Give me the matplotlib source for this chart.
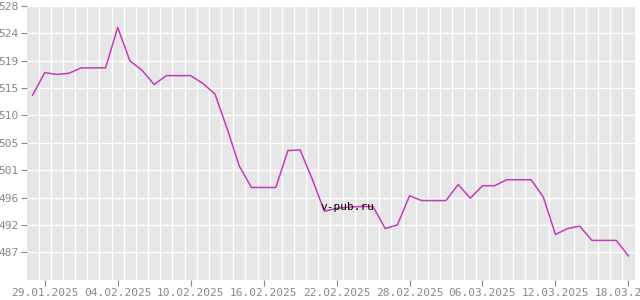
import matplotlib
matplotlib.use("Agg")
import matplotlib.pyplot as plt
import matplotlib.dates as mdates
import numpy as np
import pandas as pd

# daily values, 28.01.2025 .. 18.03.2025
start_date = "2025-01-28"
values = [513.4, 517.2, 516.9, 517.1, 518.0, 518.0, 518.0, 524.8, 519.2, 517.6,
          515.2, 516.7, 516.7, 516.7, 515.4, 513.6, 507.8, 501.5, 497.9, 497.9,
          497.9, 504.1, 504.2, 499.3, 493.9, 494.4, 494.6, 494.7, 494.7, 491.0,
          491.6, 496.5, 495.7, 495.7, 495.7, 498.4, 496.1, 498.2, 498.2, 499.2,
          499.2, 499.2, 496.3, 490.0, 491.0, 491.4, 489.0, 489.0, 489.0, 486.4]
ytick_labels = ["487", "492", "496", "501", "505", "510", "515", "519", "524", "528"]

dates = pd.date_range(start_date, periods=len(values), freq="D")

fig = plt.figure(figsize=(6.4, 3.0), dpi=100)
ax = fig.add_axes([27 / 640, 20 / 300, 608 / 640, 274 / 300])
ax.set_facecolor("#e6e6e6")
for s in ax.spines.values():
    s.set_visible(False)

ax.plot(dates, values, color="#c23db5", linewidth=1.1, zorder=3)

# y axis: evenly spaced ticks, integer labels
yticks = np.linspace(487.0, 528.4, len(ytick_labels))
ax.set_yticks(yticks)
ax.set_yticklabels(ytick_labels)
ax.set_ylim(482.35, 528.4)

# x axis: label every 6 days, grid between days
ax.set_xticks(dates[1::6])
ax.xaxis.set_major_formatter(mdates.DateFormatter("%d.%m.%Y"))
ax.set_xticks(dates[:-1] + pd.Timedelta(hours=12), minor=True)
ax.set_xlim(dates[0] - pd.Timedelta(hours=11), dates[-1] + pd.Timedelta(hours=13))

ax.grid(True, axis="y", which="major", color="white", linewidth=1.0)
ax.grid(True, axis="x", which="minor", color="white", linewidth=1.0)
ax.set_axisbelow(True)

ax.tick_params(axis="both", which="major", colors="#888888", labelcolor="#888888",
               labelsize=8, length=4, width=0.8, pad=2)
ax.tick_params(axis="x", which="minor", length=0)
for lab in ax.get_xticklabels() + ax.get_yticklabels():
    lab.set_family("DejaVu Sans Mono")

fig.text(0.5, 1 - 207 / 300, "v-pub.ru", family="DejaVu Sans Mono", fontsize=8,
         color="black", ha="left", va="center", zorder=5)

fig.savefig("out.png", dpi=100)
